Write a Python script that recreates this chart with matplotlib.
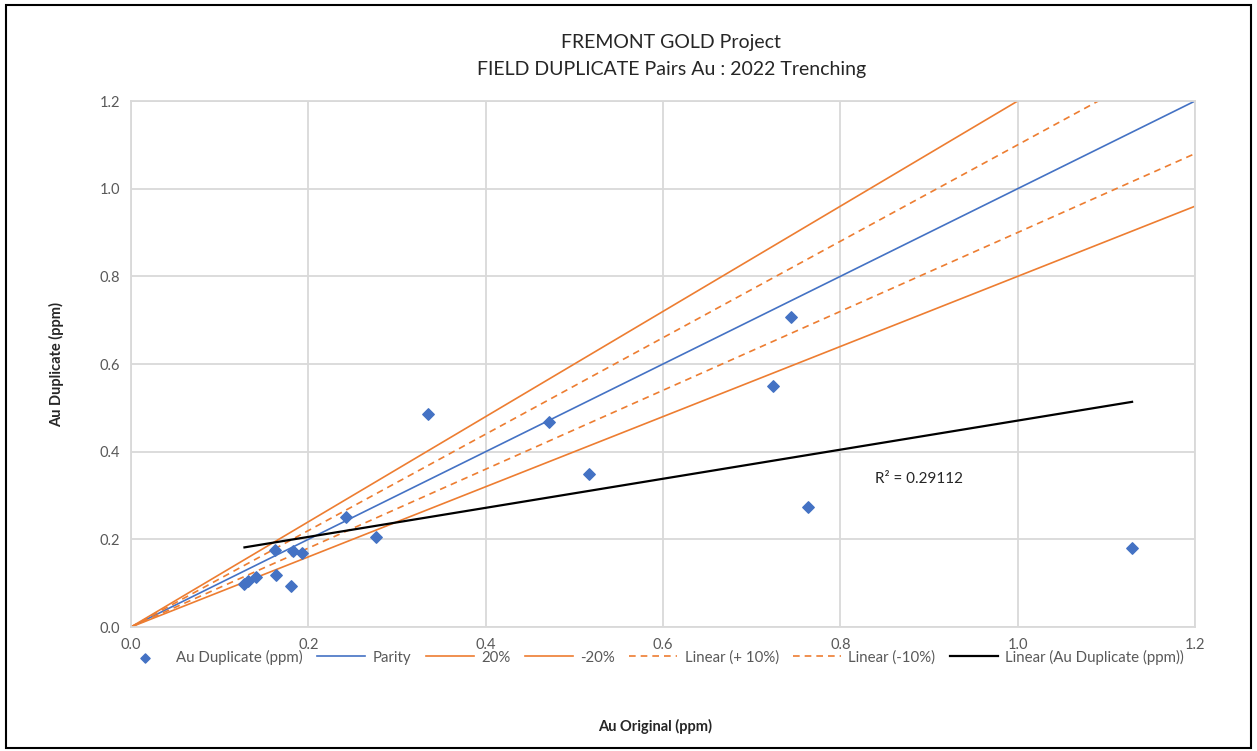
import matplotlib.pyplot as plt
import numpy as np
from matplotlib.patches import Rectangle

plt.rcParams['font.family'] = ['Lato', 'DejaVu Sans']

# data pasangan duplikat lapangan (ppm)
au_original = [0.128, 0.132, 0.141, 0.164, 0.180, 0.162, 0.183, 0.193, 0.242,
               0.276, 0.335, 0.471, 0.516, 0.724, 0.744, 0.763, 1.129]
au_duplicate = [0.098, 0.104, 0.114, 0.119, 0.094, 0.176, 0.173, 0.169, 0.251,
                0.205, 0.486, 0.468, 0.348, 0.549, 0.708, 0.274, 0.181]
r2_text = 'R² = 0.29112'

ticks = [0.0, 0.2, 0.4, 0.6, 0.8, 1.0, 1.2]
lim = 1.2

blue = '#4472C4'
orange = '#ED7D31'
grid = '#D9D9D9'
teks = '#595959'

xo = np.array(au_original)
yd = np.array(au_duplicate)

fig = plt.figure(figsize=(12.57, 7.51), dpi=100)
ax = fig.add_axes([0.1042, 0.1651, 0.8465, 0.7004])

ax.scatter(xo, yd, marker='D', s=34, color=blue, zorder=5, label='Au Duplicate (ppm)')

# garis batas: parity, +/-20%, +/-10%
xl = np.array([0, lim])
ax.plot(xl, xl, color=blue, lw=1.2, label='Parity')
ax.plot(xl, 1.2 * xl, color=orange, lw=1.2, label='20%')
ax.plot(xl, 0.8 * xl, color=orange, lw=1.2, label='-20%')
ax.plot(xl, 1.1 * xl, color=orange, lw=1.2, ls=(0, (4, 3)), label='Linear (+ 10%)')
ax.plot(xl, 0.9 * xl, color=orange, lw=1.2, ls=(0, (4, 3)), label='Linear (-10%)')

# garis tren linear dari data
m, c = np.polyfit(xo, yd, 1)
xt = np.array([xo.min(), xo.max()])
ax.plot(xt, m * xt + c, color='black', lw=1.6, label='Linear (Au Duplicate (ppm))')
ax.text(0.839, 0.338, r2_text, fontsize=11, color='#262626', va='center')

ax.set_xlim(0, lim)
ax.set_ylim(0, lim)
ax.set_xticks(ticks)
ax.set_yticks(ticks)
ax.xaxis.set_major_formatter(plt.FormatStrFormatter('%.1f'))
ax.yaxis.set_major_formatter(plt.FormatStrFormatter('%.1f'))
ax.tick_params(length=0, labelsize=10.5, labelcolor=teks, pad=8)
ax.grid(color=grid, lw=1.3)
ax.set_axisbelow(True)
for s in ax.spines.values():
    s.set_color(grid)
    s.set_linewidth(1.3)

fig.text(0.534, 0.943, 'FREMONT GOLD Project', ha='center', va='center', fontsize=14, color='#262626')
fig.text(0.534, 0.907, 'FIELD DUPLICATE Pairs Au : 2022 Trenching', ha='center', va='center',
         fontsize=14, color='#262626')
fig.text(0.521, 0.032, 'Au Original (ppm)', ha='center', va='center', fontsize=10.5,
         fontweight='bold', color='#262626')
fig.text(0.045, 0.514, 'Au Duplicate (ppm)', ha='center', va='center', rotation=90,
         fontsize=10.5, fontweight='bold', color='#262626')

fig.legend(loc='center', bbox_to_anchor=(0.519, 0.125), ncol=7, frameon=False,
           fontsize=10.8, labelcolor=teks, handlelength=3.2, columnspacing=0.95,
           handletextpad=0.5, markerscale=0.8)

fig.add_artist(Rectangle((0.005, 0.004), 0.99, 0.99, transform=fig.transFigure,
                         fill=False, edgecolor='black', lw=1.5))

fig.savefig('out.png', dpi=100)
